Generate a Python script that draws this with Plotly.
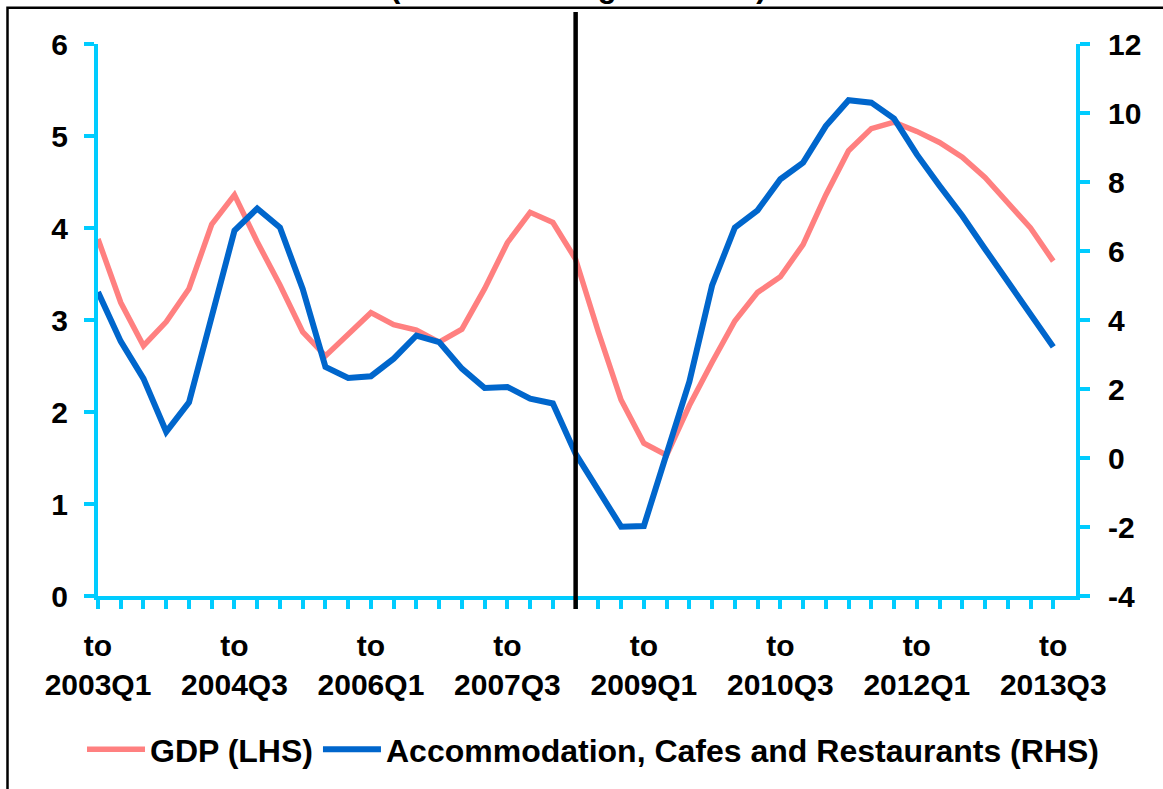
import plotly.graph_objects as go

# ---------------- data ----------------
YEARS = list(range(2003, 2014))
QUARTER_NUMS = [1, 2, 3, 4]
QUARTERS = [f"{y}Q{q}" for y in YEARS for q in QUARTER_NUMS]
QUARTERS = QUARTERS[:QUARTERS.index("2013Q3") + 1]

LABEL_QUARTERS = ["2003Q1", "2004Q3", "2006Q1", "2007Q3",
                  "2009Q1", "2010Q3", "2012Q1", "2013Q3"]
DIVIDER_QUARTER = "2008Q2"

GDP = [3.88, 3.19, 2.72, 2.98, 3.34, 4.04, 4.36, 3.85, 3.38, 2.87,
       2.61, 2.85, 3.08, 2.95, 2.89, 2.76, 2.90, 3.34, 3.84, 4.17,
       4.06, 3.66, 2.87, 2.13, 1.66, 1.53, 2.07, 2.54, 2.99, 3.30,
       3.47, 3.82, 4.36, 4.84, 5.08, 5.15, 5.05, 4.93, 4.77, 4.55,
       4.28, 4.00, 3.64]

ACCOM = [4.81, 3.38, 2.30, 0.76, 1.61, 4.03, 6.59, 7.23, 6.68, 4.90,
         2.64, 2.32, 2.37, 2.88, 3.55, 3.36, 2.59, 2.03, 2.06, 1.72,
         1.58, 0.12, -0.97, -1.99, -1.97, 0.08, 2.21, 5.00, 6.68, 7.18,
         8.08, 8.56, 9.62, 10.37, 10.30, 9.84, 8.80, 7.89, 7.02, 6.06,
         5.10, 4.18, 3.22]

LHS_TICKS = [0, 1, 2, 3, 4, 5, 6]
RHS_TICKS = [-4, -2, 0, 2, 4, 6, 8, 10, 12]

TITLE = "(Annual Average Percent)"
NAMES = ["GDP (LHS)", "Accommodation, Cafes and Restaurants (RHS)"]

# ---------------- styling ----------------
FONT = "Arial, 'Liberation Sans', Helvetica, sans-serif"
CYAN = "#00CCFF"
RED = "#FF8080"
BLUE = "#0066CC"

W, H = 1163, 789
L, R, T, B = 98, 87, 44, 191
PW, PH = W - L - R, H - T - B


def px_x(p):
    return (p - L) / PW


def px_y(p):
    return 1 - (p - T) / PH


fig = go.Figure()
fig.add_trace(go.Scatter(x=QUARTERS, y=GDP, name=NAMES[0], mode="lines",
                         line=dict(color=RED, width=5.5), yaxis="y"))
fig.add_trace(go.Scatter(x=QUARTERS, y=ACCOM, name=NAMES[1], mode="lines",
                         line=dict(color=BLUE, width=6), yaxis="y2"))

ticktext = [f"to<br>{q}" if q in LABEL_QUARTERS else "" for q in QUARTERS]
tickfont = dict(family=FONT, size=30, color="black", weight="bold")

fig.update_layout(
    template="none",
    width=W, height=H,
    margin=dict(l=L, r=R, t=T, b=B, pad=0),
    paper_bgcolor="white", plot_bgcolor="white",
    showlegend=True,
    legend=dict(orientation="h", x=px_x(82), xanchor="left",
                y=px_y(752), yanchor="middle",
                font=dict(family=FONT, size=32, color="black", weight="bold"),
                bgcolor="rgba(0,0,0,0)", borderwidth=0,
                itemwidth=58, traceorder="normal"),
    xaxis=dict(type="category", categoryorder="array", categoryarray=QUARTERS,
               range=[0, len(QUARTERS)], automargin=False,
               tickmode="array", tickvals=QUARTERS, ticktext=ticktext,
               ticks="outside", ticklen=9, tickwidth=4, tickcolor=CYAN,
               showline=True, linecolor=CYAN, linewidth=4,
               showgrid=False, zeroline=False, tickangle=0,
               tickfont=tickfont, ticklabelstandoff=11),
    yaxis=dict(range=[LHS_TICKS[0], LHS_TICKS[-1]], automargin=False,
               tickmode="array", tickvals=LHS_TICKS,
               ticktext=[str(v) for v in LHS_TICKS],
               ticks="outside", ticklen=10, tickwidth=4, tickcolor=CYAN,
               showline=True, linecolor=CYAN, linewidth=4,
               showgrid=False, zeroline=False,
               tickfont=tickfont, ticklabelstandoff=10),
    yaxis2=dict(range=[RHS_TICKS[0], RHS_TICKS[-1]], automargin=False,
                tickmode="array", tickvals=RHS_TICKS,
                ticktext=[str(v) for v in RHS_TICKS],
                overlaying="y", side="right",
                ticks="outside", ticklen=10, tickwidth=4, tickcolor=CYAN,
                showline=True, linecolor=CYAN, linewidth=4,
                showgrid=False, zeroline=False,
                tickfont=tickfont, ticklabelstandoff=12),
    shapes=[
        # outer chart border (extends past the right/bottom of the view)
        dict(type="rect", xref="paper", yref="paper",
             x0=px_x(7.5), x1=px_x(W + 40), y0=px_y(H + 40), y1=px_y(7.5),
             line=dict(color="black", width=2.5), fillcolor="rgba(0,0,0,0)",
             layer="below"),
        # divider line
        dict(type="line", xref="x", yref="paper",
             x0=QUARTERS.index(DIVIDER_QUARTER), x1=QUARTERS.index(DIVIDER_QUARTER),
             y0=px_y(611), y1=px_y(12),
             line=dict(color="black", width=4.5), layer="above"),
    ],
    annotations=[
        dict(text=TITLE, xref="paper", yref="paper", x=px_x(578), y=px_y(6),
             xanchor="center", yanchor="bottom", showarrow=False,
             font=dict(family=FONT, size=31, color="black", weight="bold")),
    ],
)

fig.write_html("out.html")
